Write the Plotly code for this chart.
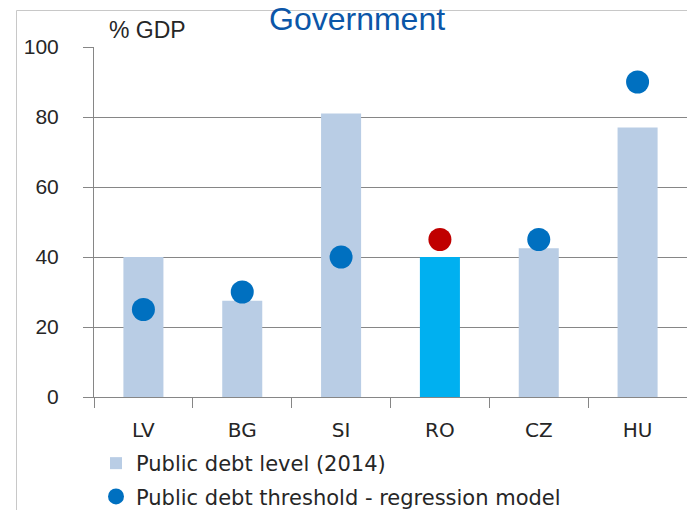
import plotly.graph_objects as go

# Countries and values (% of GDP)
countries = ["LV", "BG", "SI", "RO", "CZ", "HU"]
debt_2014 = [40, 27.5, 81, 40, 42.5, 77]
debt_threshold = [25, 30, 40, 45, 45, 90]

bar_colors = ["#B9CDE5", "#B9CDE5", "#B9CDE5", "#00B0F0", "#B9CDE5", "#B9CDE5"]
dot_colors = ["#0070C0", "#0070C0", "#0070C0", "#C00000", "#0070C0", "#0070C0"]

W, H = 687, 510
ML, MR, MT, MB = 94, 0, 47, 113
PW, PH = W - ML - MR, H - MT - MB


def px_x(x):
    return (x - ML) / PW


def px_y(y):
    return (H - MB - y) / PH


fig = go.Figure()
fig.add_trace(go.Bar(
    x=countries, y=debt_2014, name="Public debt level (2014)",
    marker=dict(color=bar_colors, line=dict(width=0)),
    legendgroup="a",
))
fig.add_trace(go.Scatter(
    x=countries, y=debt_threshold, mode="markers",
    name="Public debt threshold - regression model",
    marker=dict(color=dot_colors, size=23, symbol="circle", line=dict(width=0)),
    legendgroup="b",
))

label_font = "DejaVu Sans, Liberation Sans, Arial, sans-serif"
num_font = "Liberation Sans, Arial, sans-serif"

fig.update_layout(
    width=W, height=H,
    margin=dict(l=ML, r=MR, t=MT, b=MB, pad=0, autoexpand=False),
    paper_bgcolor="white", plot_bgcolor="white",
    bargap=0.595,
    showlegend=True,
    legend=dict(
        x=px_x(96), y=px_y(443), xanchor="left", yanchor="top",
        font=dict(family=label_font, size=21, color="#262626"),
        tracegroupgap=3, bgcolor="rgba(0,0,0,0)",
        itemsizing="trace",
    ),
    xaxis=dict(
        type="category", tickson="boundaries", ticks="outside", ticklen=10,
        tickcolor="#868686", tickwidth=1,
        showline=True, linecolor="#868686", linewidth=1,
        showgrid=False, zeroline=False, automargin=False,
        tickfont=dict(family=label_font, size=20, color="#262626"),
        ticklabelstandoff=15,
    ),
    yaxis=dict(
        range=[0, 100], tickvals=[0, 20, 40, 60, 80, 100],
        ticks="outside", ticklen=10, tickcolor="#868686", tickwidth=1,
        showline=True, linecolor="#868686", linewidth=1,
        showgrid=True, gridcolor="#868686", gridwidth=1,
        zeroline=False, automargin=False,
        tickfont=dict(family=num_font, size=21, color="#262626"),
        ticklabelstandoff=20,
    ),
    annotations=[
        dict(text="Government", x=px_x(357), y=px_y(19), xref="paper", yref="paper",
             xanchor="center", yanchor="middle", showarrow=False,
             font=dict(family=num_font, size=32, color="#0B56A8")),
        dict(text="% GDP", x=px_x(147), y=px_y(30), xref="paper", yref="paper",
             xanchor="center", yanchor="middle", showarrow=False,
             font=dict(family=num_font, size=23, color="#262626")),
    ],
    shapes=[
        dict(type="line", xref="paper", yref="paper",
             x0=px_x(16.5), x1=px_x(16.5), y0=px_y(10.5), y1=px_y(H + 5),
             line=dict(color="#C8C8C8", width=1)),
        dict(type="line", xref="paper", yref="paper",
             x0=px_x(16.5), x1=px_x(W + 5), y0=px_y(10.5), y1=px_y(10.5),
             line=dict(color="#C8C8C8", width=1)),
    ],
)

fig.write_html("out.html")
